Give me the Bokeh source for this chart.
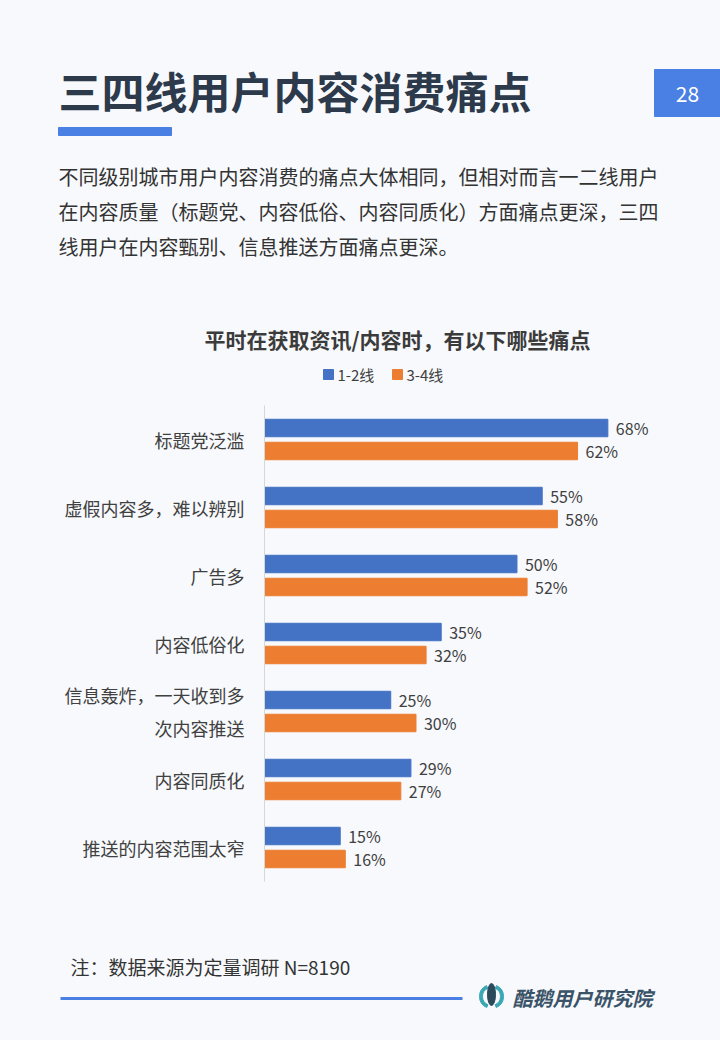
from bokeh.plotting import figure
from bokeh.layouts import column
from bokeh.models import Range1d, FactorRange, ColumnDataSource
from bokeh.transform import dodge
from bokeh.core.properties import value
from bokeh.embed import file_html
from bokeh.resources import INLINE

# ---------------- data ----------------
categories = ["标题党泛滥", "虚假内容多，难以辨别", "广告多", "内容低俗化",
              "信息轰炸，一天收到多\n次内容推送", "内容同质化", "推送的内容范围太窄"]
tier12 = [68, 55, 50, 35, 25, 29, 15]
tier34 = [62, 58, 52, 32, 30, 27, 16]
series_names = ["1-2线", "3-4线"]

page_title = "三四线用户内容消费痛点"
page_number = "28"
paragraph = ["不同级别城市用户内容消费的痛点大体相同，但相对而言一二线用户",
             "在内容质量（标题党、内容低俗、内容同质化）方面痛点更深，三四",
             "线用户在内容甄别、信息推送方面痛点更深。"]
chart_title = "平时在获取资讯/内容时，有以下哪些痛点"
footnote = "注：数据来源为定量调研 N=8190"
brand = "酷鹅用户研究院"

# ---------------- style ----------------
BG = "#f7f9fc"
FONT = "Noto Sans CJK SC"
BLUE = "#4472c4"
ORANGE = "#ed7d31"
ACCENT = "#4a80e3"
DARK = "#2d3a4b"
TEXT = "#3a3a3a"
W = 720


def canvas(y0, y1):
    p = figure(width=W, height=y1 - y0, x_range=Range1d(0, W), y_range=Range1d(y1, y0),
               output_backend="svg", toolbar_location=None, min_border=0,
               x_axis_location=None, y_axis_location=None, frame_align=False)
    p.grid.visible = False
    p.outline_line_color = None
    p.background_fill_color = BG
    p.border_fill_color = BG
    return p


def txt(p, x, y, s, size, color=TEXT, align="left", style="normal"):
    p.text(x=[x], y=[y], text=[s], text_font=value(FONT), text_font_size=size,
           text_color=color, text_align=align, text_baseline="middle",
           text_font_style=style)


# ---------------- header ----------------
head = canvas(0, 400)
txt(head, 58, 89, page_title, "43px", DARK, style="bold")
head.quad(left=[58], right=[171], top=[127], bottom=[135], color=ACCENT)
head.quad(left=[654], right=[720], top=[69], bottom=[116], color=ACCENT)
txt(head, 687, 93, page_number, "21px", "white", align="center")
for i, line in enumerate(paragraph):
    txt(head, 58, 176 + i * 35, line, "20px", "#333333")
txt(head, 397, 338, chart_title, "21px", "#3b3b3b", align="center", style="bold")
head.rect(x=[328], y=[374], width=10, height=10, color=BLUE)
txt(head, 337, 374, series_names[0], "15px", "#404040")
head.rect(x=[397], y=[374], width=10, height=10, color=ORANGE)
txt(head, 406, 374, series_names[1], "15px", "#404040")

# ---------------- chart ----------------
src = ColumnDataSource(dict(cat=categories, a=tier12, b=tier34,
                            la=[f"{v}%" for v in tier12], lb=[f"{v}%" for v in tier34]))
chart = figure(width=W, height=490, y_range=FactorRange(*categories[::-1]),
               x_range=Range1d(0, 80.8), output_backend="svg", toolbar_location=None,
               x_axis_location=None, min_border_left=264, min_border_right=48,
               min_border_top=5, min_border_bottom=9, frame_align=False)
chart.grid.visible = False
chart.outline_line_color = None
chart.background_fill_color = BG
chart.border_fill_color = BG
off = 0.169
hb = 0.257
chart.hbar(y=dodge("cat", off, range=chart.y_range), left=0, right="a", height=hb,
           color=BLUE, source=src)
chart.hbar(y=dodge("cat", -off, range=chart.y_range), left=0, right="b", height=hb,
           color=ORANGE, source=src)
chart.text(x="a", y=dodge("cat", off, range=chart.y_range), text="la", x_offset=8,
           text_font=value(FONT), text_font_size="16px", text_color="#404040",
           text_baseline="middle", source=src)
chart.text(x="b", y=dodge("cat", -off, range=chart.y_range), text="lb", x_offset=8,
           text_font=value(FONT), text_font_size="16px", text_color="#404040",
           text_baseline="middle", source=src)
ax = chart.yaxis[0]
ax.axis_line_color = "#d6d6d6"
ax.axis_line_width = 1
ax.major_tick_line_color = None
ax.minor_tick_line_color = None
ax.major_label_standoff = 14
ax.major_label_text_font = FONT
ax.major_label_text_font_size = "18px"
ax.major_label_text_color = "#404040"
ax.major_label_text_line_height = 1.27

# ---------------- footer ----------------
foot = canvas(890, 1040)
txt(foot, 70, 966, footnote, "19px", "#333333")
foot.segment(x0=[60], y0=[998], x1=[462], y1=[998], line_color=ACCENT, line_width=3)
foot.annular_wedge(x=[491], y=[996], inner_radius=9, outer_radius=12,
                   start_angle=2.0, end_angle=4.3, color="#3aa7b5")
foot.annular_wedge(x=[491], y=[996], inner_radius=9, outer_radius=12,
                   start_angle=-1.16, end_angle=1.14, color="#3aa7b5")
foot.ellipse(x=[491], y=[994], width=8, height=22, color="#2b4a5c")
txt(foot, 512, 997, brand, "20px", "#3a5368", style="bold italic")

layout = column(head, chart, foot, spacing=0, styles={"background-color": BG})
open("out.html", "w").write(file_html(layout, INLINE))
